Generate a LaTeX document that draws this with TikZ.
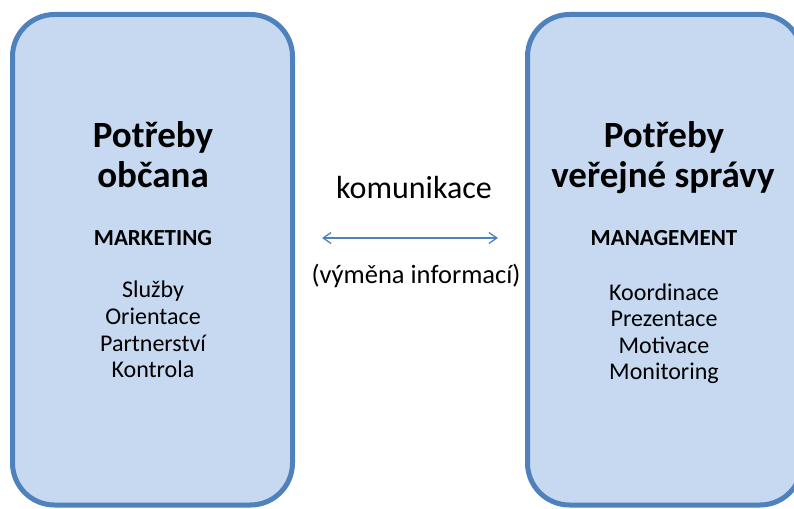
\documentclass[tikz,border=0pt]{standalone}
\usepackage{fontspec}
\setmainfont{Carlito}
\usetikzlibrary{arrows.meta}
\definecolor{boxfill}{HTML}{C6D9F1}
\definecolor{boxline}{HTML}{4F81BD}
\tikzset{
  panel/.style={draw=boxline, fill=boxfill, line width=5pt, rounded corners=42pt},
  title/.style={anchor=base, inner sep=0pt, font=\fontsize{37}{40}\selectfont\bfseries},
  head/.style={anchor=base, inner sep=0pt, font=\fontsize{23}{26}\selectfont\bfseries},
  item/.style={anchor=base, inner sep=0pt, font=\fontsize{24}{27}\selectfont},
  mid/.style={anchor=base, inner sep=0pt, font=\fontsize{32}{36}\selectfont},
  mid2/.style={anchor=base, inner sep=0pt, font=\fontsize{26.5}{30}\selectfont},
  link/.style={draw=boxline, line width=1.3pt, {Straight Barb[length=8pt,width=11pt,line width=1.3pt]}-{Straight Barb[length=8pt,width=11pt,line width=1.3pt]}}
}
\begin{document}
\begin{tikzpicture}[x=1pt,y=-1pt]
\useasboundingbox (0,0) rectangle (794,508);
\begin{scope}
\clip (0,0) rectangle (794,508);
\path[panel] (12.5,14.5) rectangle (292.5,505);
\path[panel] (527.5,14.5) rectangle (802,505);
\end{scope}
% left box texts
\node[title] (l1) at (153,147) {Potřeby};
\node[title] (l2) at (153,187) {občana};
\node[head] (lh) at (153,245) {MARKETING};
\node[item] (li1) at (153,297) {Služby};
\node[item] (li2) at (153,324) {Orientace};
\node[item] (li3) at (153,351) {Partnerství};
\node[item] (li4) at (153,377) {Kontrola};
% right box texts
\node[title] (r1) at (664,147) {Potřeby};
\node[title] (r2) at (663,187) {veřejné správy};
\node[head] (rh) at (664,245) {MANAGEMENT};
\node[item] (ri1) at (664,300) {Koordinace};
\node[item] (ri2) at (664,326) {Prezentace};
\node[item] (ri3) at (664,353) {Motivace};
\node[item] (ri4) at (664,379) {Monitoring};
% middle
\node[mid] (m1) at (414,198) {komunikace};
\coordinate (a1) at (322,238);
\coordinate (a2) at (498,238);
\draw[link] (a1) -- (a2);
\node[mid2] (m2) at (416,283) {(výměna informací)};
\end{tikzpicture}
\end{document}
